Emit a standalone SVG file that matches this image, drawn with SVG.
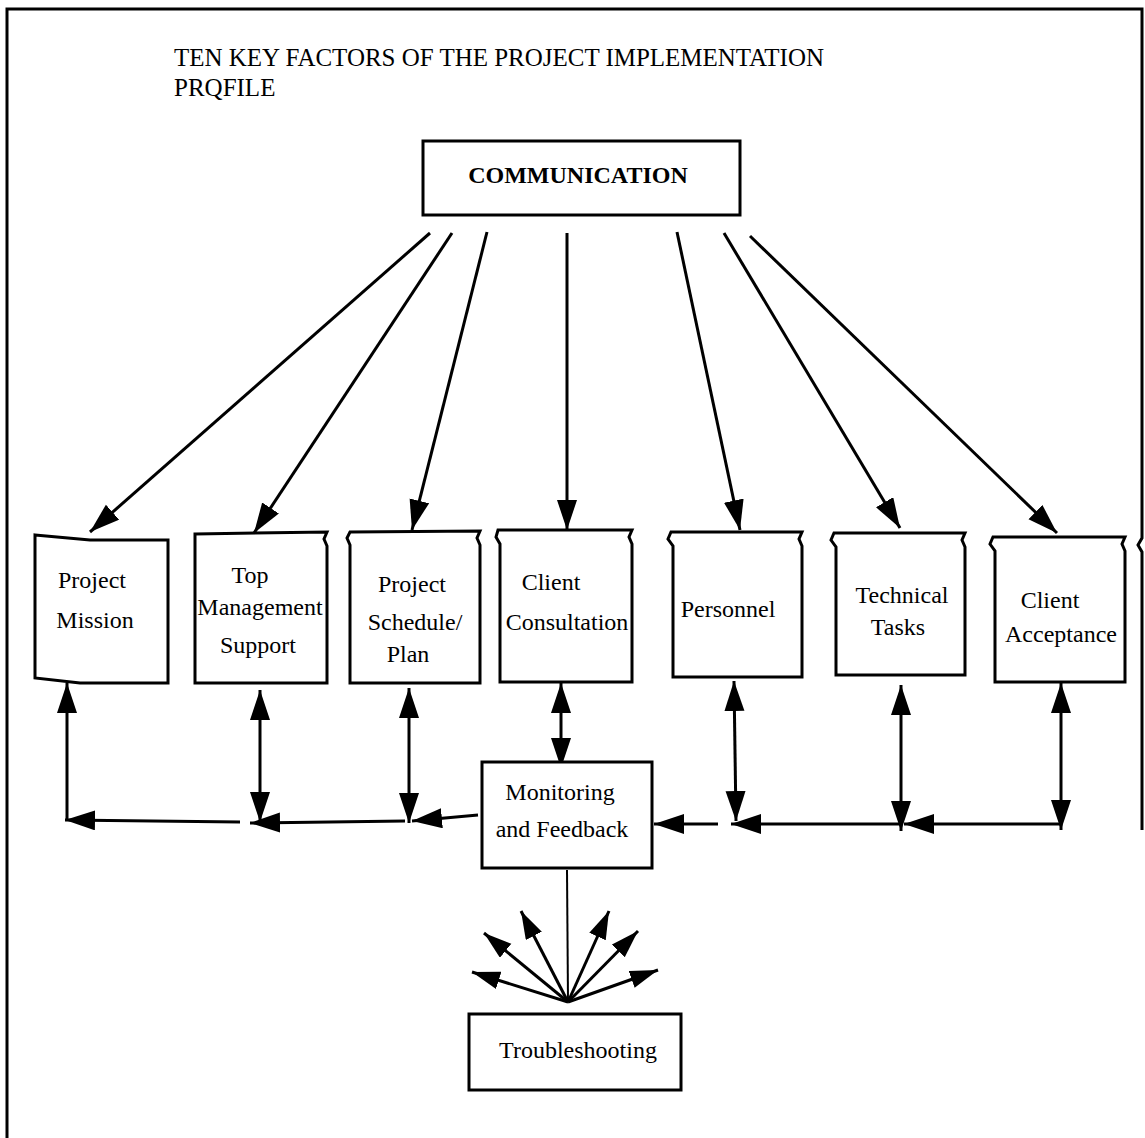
<svg xmlns="http://www.w3.org/2000/svg" width="1145" height="1138" viewBox="0 0 1145 1138">
<defs>
<style>
.frame{fill:none;stroke:#000;stroke-width:3}
.box{fill:#fff;stroke:#000;stroke-width:3;stroke-linejoin:miter}
.lbl{font-family:"Liberation Serif","Times New Roman",serif;font-size:24px;fill:#000;text-anchor:middle}
.title{font-family:"Liberation Serif","Times New Roman",serif;font-size:25px;fill:#000}
.bold{font-weight:bold}
.con{fill:none;stroke:#000;stroke-width:3}
.end{marker-end:url(#ah)}
.both{marker-end:url(#ah);marker-start:url(#ah)}
.fan{marker-end:url(#ahs)}
</style>
<marker id="ah" markerUnits="userSpaceOnUse" markerWidth="32" markerHeight="21" refX="30" refY="10" orient="auto-start-reverse">
<path d="M0,0 L30,10 L0,20 Z" fill="#000"/>
</marker>
<marker id="ahs" markerUnits="userSpaceOnUse" markerWidth="30" markerHeight="19" refX="28" refY="9" orient="auto">
<path d="M0,0 L28,9 L0,18 Z" fill="#000"/>
</marker>
</defs>
<rect width="1145" height="1138" fill="#fff"/>
<g id="frame">
<path class="frame" d="M7,1138 L7,9 L1142,9 L1142,538 L1138,545 L1142,552 L1142,830"/>
</g>
<g id="title">
<text class="title" x="174" y="66" textLength="650" lengthAdjust="spacingAndGlyphs">TEN KEY  FACTORS OF THE PROJECT IMPLEMENTATION</text>
<text class="title" x="174" y="96">PRQFILE</text>
</g>
<g id="connectors">
<line class="con end" x1="430" y1="233" x2="90" y2="532"/>
<line class="con end" x1="452" y1="233" x2="254" y2="533"/>
<line class="con end" x1="487" y1="232" x2="412" y2="530"/>
<line class="con end" x1="567" y1="233" x2="567" y2="530"/>
<line class="con end" x1="677" y1="232" x2="740" y2="530"/>
<line class="con end" x1="724" y1="233" x2="900" y2="528"/>
<line class="con end" x1="750" y1="236" x2="1057" y2="533"/>
<line class="con end" x1="67" y1="820" x2="67" y2="683"/>
<line class="con end" x1="240" y1="822" x2="65" y2="820"/>
<line class="con both" x1="260" y1="690" x2="260" y2="822"/>
<line class="con end" x1="405" y1="821" x2="250" y2="823"/>
<line class="con both" x1="409" y1="688" x2="409" y2="823"/>
<line class="con end" x1="478" y1="815" x2="412" y2="821"/>
<line class="con both" x1="561" y1="683" x2="561" y2="768"/>
<line class="con end" x1="718" y1="824" x2="654" y2="824"/>
<line class="con both" x1="734" y1="681" x2="736" y2="821"/>
<line class="con end" x1="900" y1="824" x2="731" y2="824"/>
<line class="con both" x1="901" y1="685" x2="901" y2="831"/>
<line class="con end" x1="1061" y1="824" x2="904" y2="824"/>
<line class="con both" x1="1061" y1="683" x2="1061" y2="830"/>
<line class="con" x1="567" y1="870" x2="568" y2="1002" style="stroke-width:2"/>
<line class="con fan" x1="568" y1="1002" x2="472" y2="972"/>
<line class="con fan" x1="568" y1="1002" x2="484" y2="933"/>
<line class="con fan" x1="568" y1="1002" x2="521" y2="911"/>
<line class="con fan" x1="568" y1="1002" x2="609" y2="911"/>
<line class="con fan" x1="568" y1="1002" x2="638" y2="931"/>
<line class="con fan" x1="568" y1="1002" x2="658" y2="970"/>
</g>
<g id="communication">
<rect class="box" x="423" y="141" width="317" height="74"/>
<text class="lbl bold" x="578" y="183">COMMUNICATION</text>
</g>
<g id="project-mission">
<path class="box" d="M35,535 L90,540 L168,540 L168,683 L80,683 L35,678 Z"/>
<text class="lbl" x="92" y="588">Project</text>
<text class="lbl" x="95" y="628">Mission</text>
</g>
<g id="top-management">
<path class="box" d="M195,534 L327,532 L324,539 L327,546 L327,683 L195,683 Z"/>
<text class="lbl" x="250" y="583">Top</text>
<text class="lbl" x="260" y="615">Management</text>
<text class="lbl" x="258" y="653">Support</text>
</g>
<g id="project-schedule">
<path class="box" d="M350,532 L480,531 L477,538 L480,545 L480,683 L350,683 L350,545 L347,538 Z"/>
<text class="lbl" x="412" y="592">Project</text>
<text class="lbl" x="415" y="630">Schedule/</text>
<text class="lbl" x="408" y="662">Plan</text>
</g>
<g id="client-consultation">
<path class="box" d="M498,530 L632,530 L629,537 L632,544 L632,682 L500,682 L500,544 L496,537 Z"/>
<text class="lbl" x="551" y="590">Client</text>
<text class="lbl" x="567" y="630">Consultation</text>
</g>
<g id="personnel">
<path class="box" d="M671,532 L802,532 L799,539 L802,546 L802,677 L673,677 L673,546 L668,539 Z"/>
<text class="lbl" x="728" y="617">Personnel</text>
</g>
<g id="technical-tasks">
<path class="box" d="M834,533 L965,533 L962,540 L965,547 L965,675 L836,675 L836,547 L831,540 Z"/>
<text class="lbl" x="902" y="603">Technical</text>
<text class="lbl" x="898" y="635">Tasks</text>
</g>
<g id="client-acceptance">
<path class="box" d="M993,537 L1125,537 L1122,544 L1125,551 L1125,682 L995,682 L995,551 L990,544 Z"/>
<text class="lbl" x="1050" y="608">Client</text>
<text class="lbl" x="1061" y="642">Acceptance</text>
</g>
<g id="monitoring">
<rect class="box" x="482" y="762" width="170" height="106"/>
<text class="lbl" x="560" y="800">Monitoring</text>
<text class="lbl" x="562" y="837">and Feedback</text>
</g>
<g id="troubleshooting">
<rect class="box" x="469" y="1014" width="212" height="76"/>
<text class="lbl" x="578" y="1058">Troubleshooting</text>
</g>
</svg>
